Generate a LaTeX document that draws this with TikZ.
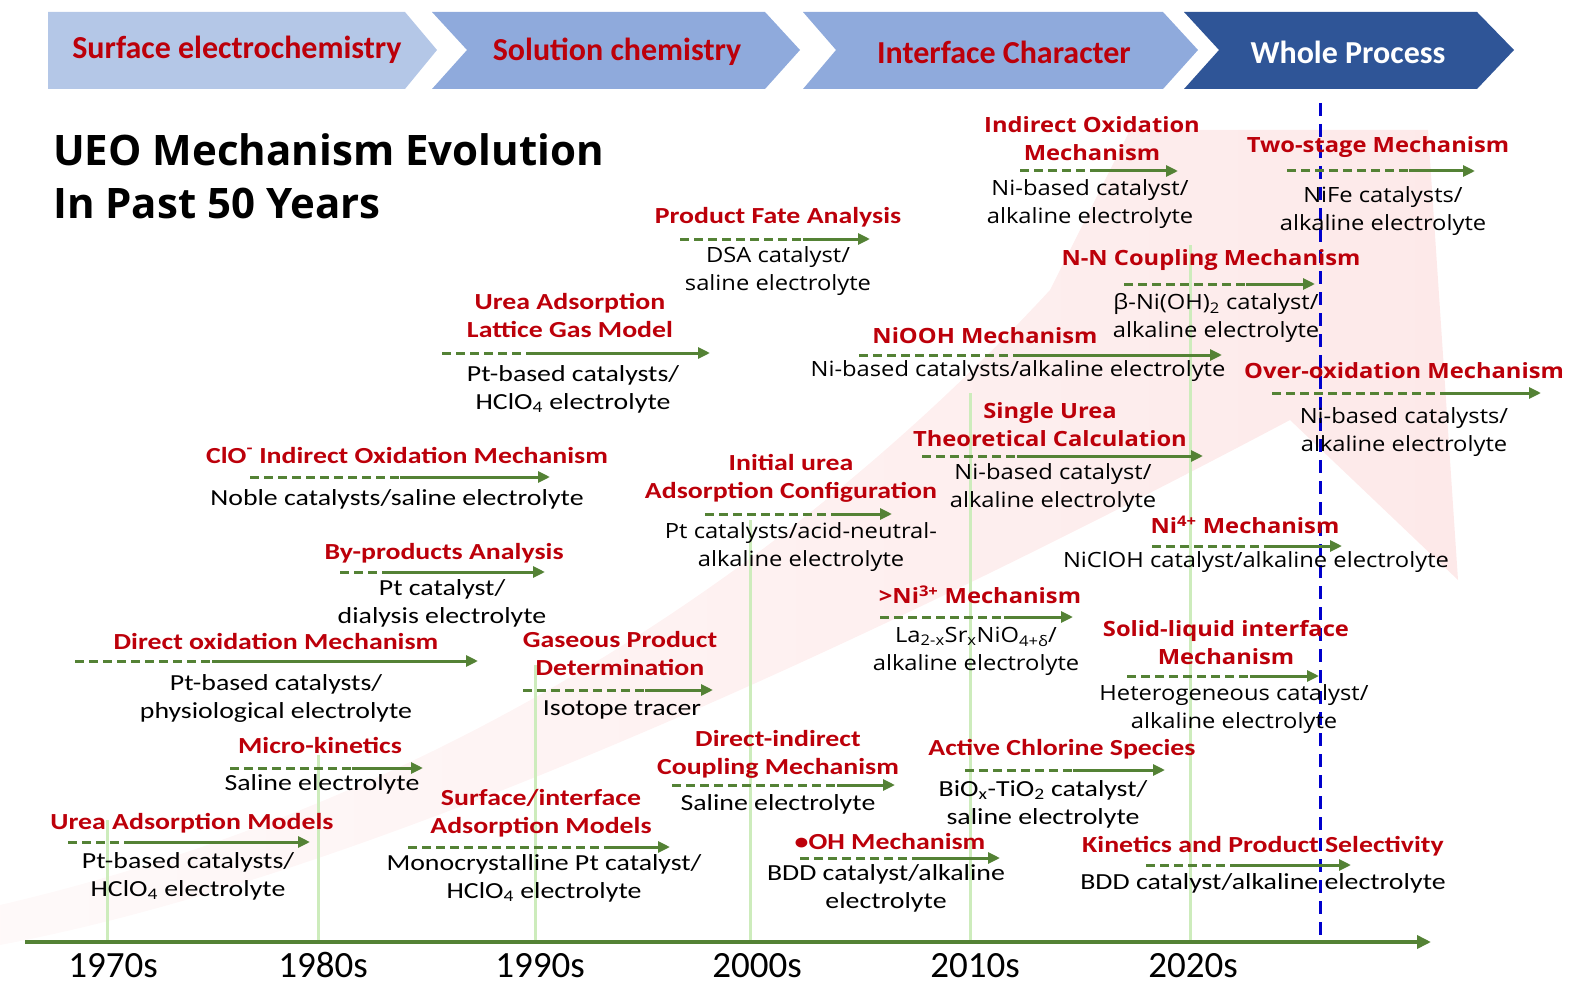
\documentclass[tikz,border=0pt]{standalone}
\usepackage{fontspec}
\setmainfont{Carlito}
\newfontfamily\calfont[FakeStretch=1.21]{Carlito}
\newfontfamily\yhfont[FakeStretch=1.13]{Open Sans}
\newfontfamily\titlefont{Open Sans}
\usetikzlibrary{arrows.meta}

\definecolor{mechred}{RGB}{188,0,10}
\definecolor{arrowgreen}{RGB}{84,130,53}
\definecolor{yeargreen}{RGB}{205,236,188}
\definecolor{chevlight}{RGB}{180,199,231}
\definecolor{chevmid}{RGB}{143,170,220}
\definecolor{chevdark}{RGB}{47,85,151}
\definecolor{nowblue}{RGB}{0,0,204}
\definecolor{bgpink}{RGB}{253,233,233}

\begin{document}
\begin{tikzpicture}[x=1pt,y=-1pt,
	mechC/.style={text=mechred,font=\calfont\bfseries\fontsize{23}{28}\selectfont,align=center,inner sep=0pt},
	mechY/.style={text=mechred,font=\yhfont\bfseries\fontsize{21}{28}\selectfont,align=center,inner sep=0pt},
	condC/.style={font=\calfont\fontsize{23}{28}\selectfont,align=center,inner sep=0pt},
	condY/.style={font=\yhfont\fontsize{21}{28}\selectfont,align=center,inner sep=0pt},
	headtxt/.style={font=\fontsize{32}{36}\selectfont\bfseries,inner sep=0pt},
	yearlbl/.style={font=\fontsize{37}{40}\selectfont,inner sep=0pt},
	dashseg/.style={arrowgreen,line width=3pt,dash pattern=on 9pt off 5pt},
	solidseg/.style={arrowgreen,line width=3pt,-{Triangle[length=12pt,width=11pt]}},
	yearline/.style={yeargreen,line width=3pt}]
	\useasboundingbox (0,0) rectangle (1571,987);
	
	%background arrow
	\shade[left color=bgpink!25,right color=bgpink] (0,905) .. controls (450,800) and (800,560) .. (1050,290) -- (1130,130) -- (1428,130) -- (1458,580) -- (1290,420) .. controls (950,600) and (400,870) .. (0,945) -- cycle;
	
	%header
	\fill[chevlight] (48,12) -- (405,12) -- (437,50) -- (405,89) -- (48,89) -- cycle;
	\fill[chevmid] (432,12) -- (765,12) -- (800,50) -- (765,89) -- (432,89) -- (467,50) -- cycle;
	\fill[chevmid] (803,12) -- (1163,12) -- (1198,50) -- (1163,89) -- (803,89) -- (836,50) -- cycle;
	\fill[chevdark] (1184,12) -- (1477,12) -- (1514,50) -- (1477,89) -- (1184,89) -- (1219,50) -- cycle;
	\node[headtxt,text=mechred] (hse) at (237,50) {Surface electrochemistry};
	\node[headtxt,text=mechred] (hsc) at (617,52) {Solution chemistry};
	\node[headtxt,text=mechred] (hic) at (1004,52) {Interface Character};
	\node[headtxt,text=white] (hwp) at (1348,52) {Whole Process};
	
	%title
	\node[anchor=west,align=left,inner sep=0pt,font=\titlefont\bfseries\fontsize{42}{53}\selectfont] (title) at (53,176) {UEO Mechanism Evolution\\In Past 50 Years};
	
	%decade lines and axis
	\foreach \x/\top in {107/820,318/755,535/665,750/520,970/393,1190/245}
	\draw[yearline] (\x,942) -- (\x,\top);
	\draw[nowblue,line width=3pt,dash pattern=on 13pt off 8pt] (1320,103) -- (1320,942);
	\draw[arrowgreen,line width=4pt,-{Triangle[length=14pt,width=13pt]}] (25,942) -- (1431,942);
	\foreach \yr/\x in {1970s/113,1980s/323,1990s/540,2000s/757,2010s/975,2020s/1193}
	\node[yearlbl,anchor=base] (y\yr) at (\x,977) {\yr};
	
	%arrows under the mechanisms
	\foreach \xa/\xb/\xc/\yy in {68/128/310/842,230/352/423/768,75/212/478/661,340/388/545/572,
		250/400/550/477,442/533/710/353,680/803/870/239,408/612/670/847,523/645/713/690,
		705/837/892/514,672/837/895/785,800/919/1000/858,965/1073/1165/770,880/1004/1073/617,
		922/1017/1203/456,859/1013/1222/355,1020/1097/1178/171,1124/1246/1315/284,
		1287/1409/1475/171,1272/1441/1541/393,1152/1272/1342/546,1127/1250/1319/676,
		1146/1237/1351/865}
	{
		\draw[dashseg] (\xa,\yy) -- (\xb,\yy);
		\draw[solidseg] (\xb,\yy) -- (\xc,\yy);
	}
	
	%1970s - 1980s
	\node[mechC] (uam) at (192,823) {Urea Adsorption Models};
	\node[condC] (uamc) at (188,876) {Pt-based catalysts/\\HClO\textsubscript{4} electrolyte};
	\node[mechC] (mk) at (320,745) {Micro-kinetics};
	\node[condC] (mkc) at (322,784) {Saline electrolyte};
	\node[mechC] (dom) at (276,641) {Direct oxidation Mechanism};
	\node[condC] (domc) at (276,698) {Pt-based catalysts/\\physiological electrolyte};
	\node[mechC] (bpa) at (444,553) {By-products Analysis};
	\node[condC] (bpac) at (442,603) {Pt catalyst/\\dialysis electrolyte};
	\node[mechC] (clo) at (407,455) {ClO\textsuperscript{-} Indirect Oxidation Mechanism};
	\node[condC] (cloc) at (397,499) {Noble catalysts/saline electrolyte};
	\node[mechC] (ual) at (570,315.5) {Urea Adsorption\\Lattice Gas Model};
	\node[condC] (ualc) at (573,389) {Pt-based catalysts/\\HClO\textsubscript{4} electrolyte};
	
	%1990s
	\node[mechC] (sia) at (541,813) {Surface/interface\\Adsorption Models};
	\node[condC] (siac) at (544,878) {Monocrystalline Pt catalyst/\\HClO\textsubscript{4} electrolyte};
	\node[mechC] (gpd) at (620,654) {Gaseous Product\\Determination};
	\node[condC] (gpdc) at (622,710) {Isotope tracer};
	\node[mechC] (pfa) at (778,217) {Product Fate Analysis};
	\node[condY] (pfac) at (778,271) {DSA catalyst/\\saline electrolyte};
	
	%2000s
	\node[mechC] (iua) at (791,478) {Initial urea\\Adsorption Configuration};
	\node[condY] (iuac) at (801,547) {Pt catalysts/acid-neutral-\\alkaline electrolyte};
	\node[mechC] (dic) at (778,754) {Direct-indirect\\Coupling Mechanism};
	\node[condC] (dicc) at (778,804) {Saline electrolyte};
	\node[mechC] (ohm) at (890,842) {•OH Mechanism};
	\node[condC] (ohmc) at (886,888) {BDD catalyst/alkaline\\electrolyte};
	
	%2010s
	\node[mechY] (ni3) at (980,595) {>Ni\textsuperscript{3+} Mechanism};
	\node[condY] (ni3c) at (976,651) {La\textsubscript{2-x}Sr\textsubscript{x}NiO\textsubscript{4+δ}/\\alkaline electrolyte};
	\node[mechY] (suc) at (1050,425) {Single Urea\\Theoretical Calculation};
	\node[condY] (succ) at (1053,488) {Ni-based catalyst/\\alkaline electrolyte};
	\node[mechY] (nio) at (985,336) {NiOOH Mechanism};
	\node[condY] (nioc) at (1018,371) {Ni-based catalysts/alkaline electrolyte};
	\node[mechC] (acs) at (1062,749) {Active Chlorine Species};
	\node[condC] (acsc) at (1043,804) {BiO\textsubscript{x}-TiO\textsubscript{2} catalyst/\\saline electrolyte};
	
	%2020s
	\node[mechY] (ioa) at (1092,139) {Indirect Oxidation\\Mechanism};
	\node[condY] (ioac) at (1090,204) {Ni-based catalyst/\\alkaline electrolyte};
	\node[mechY] (nnc) at (1211,260) {N-N Coupling Mechanism};
	\node[condY] (nncc) at (1216,318) {β-Ni(OH)\textsubscript{2} catalyst/\\alkaline electrolyte};
	\node[mechY] (ni4) at (1245,525) {Ni\textsuperscript{4+} Mechanism};
	\node[condY] (ni4c) at (1256,562) {NiClOH catalyst/alkaline electrolyte};
	\node[mechY] (sli) at (1226,643) {Solid-liquid interface\\Mechanism};
	\node[condY] (slic) at (1234,709) {Heterogeneous catalyst/\\alkaline electrolyte};
	\node[mechC] (kps) at (1263,846) {Kinetics and Product Selectivity};
	\node[condC] (kpsc) at (1263,883) {BDD catalyst/alkaline electrolyte};
	\node[mechY] (tsm) at (1378,147) {Two-stage Mechanism};
	\node[condY] (tsmc) at (1383,211) {NiFe catalysts/\\alkaline electrolyte};
	\node[mechY] (oom) at (1404,371) {Over-oxidation Mechanism};
	\node[condY] (oomc) at (1404,432) {Ni-based catalysts/\\alkaline electrolyte};
	
\end{tikzpicture}
\end{document}
